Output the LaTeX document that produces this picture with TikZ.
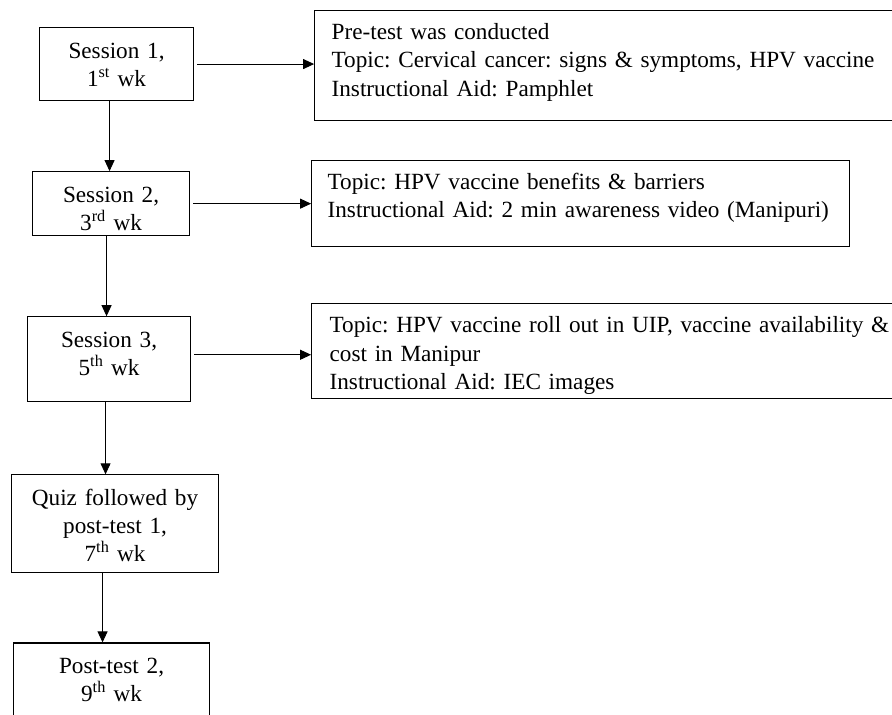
\documentclass[tikz,border=0pt]{standalone}
\usepackage{fontspec}
\setmainfont{Liberation Serif}
\usepackage{tikz}
\usetikzlibrary{arrows.meta, positioning}
\newcommand{\boxfont}{\fontsize{23.2pt}{28.3pt}\selectfont\frenchspacing\hyphenpenalty=10000}
\newcommand{\weekno}[2]{#1\textsuperscript{#2} wk}

\begin{document}
\begin{tikzpicture}[x=1pt, y=-1pt, every node/.style={font=\boxfont},
      stage/.style={draw, line width=1.1pt, inner sep=0pt, align=center, text height=30.5pt},
      note/.style={draw, line width=1.1pt, inner ysep=0pt, align=left, text height=29pt},
      link/.style={-{Triangle[length=11pt, width=10pt]}, line width=0.9pt}]
    \useasboundingbox (0,0) rectangle (892,715);
    \clip (0,0) rectangle (892,715);
    \node[stage, anchor=north west, text width=154pt, text depth=42.5pt] (s1) at (39,27) {Session 1,\\\weekno{1}{st}};
    \node[stage, below=70pt of s1, xshift=-5.5pt, text width=157pt, text depth=33.5pt] (s2) {Session 2,\\\weekno{3}{rd}};
    \node[stage, below=80pt of s2, xshift=-2pt, text width=163pt, text depth=54.5pt] (s3) {Session 3,\\\weekno{5}{th}};
    \node[stage, below=72pt of s3, xshift=6pt, text width=207pt, text depth=67.5pt] (quiz) {Quiz followed by\\post-test 1,\\\weekno{7}{th}};
    \node[stage, below=69pt of quiz, xshift=-3.5pt, text width=196pt, text depth=59.5pt] (post) {Post-test 2,\\\weekno{9}{th}};
    \node[note, right=120pt of s1, yshift=-1.5pt, inner xsep=17pt, text width=575pt, text depth=81pt] (r1) {Pre-test was conducted\\Topic: Cervical cancer: signs \& symptoms, HPV vaccine\\Instructional Aid: Pamphlet};
    \node[note, right=121pt of s2, inner xsep=16pt, text width=506pt, text depth=57pt] (r2) {Topic: HPV vaccine benefits \& barriers\\Instructional Aid: 2 min awareness video (Manipuri)};
    \node[note, right=120pt of s3, yshift=8pt, inner xsep=18pt, text width=575pt, text depth=66pt] (r3) {Topic: HPV vaccine roll out in UIP, vaccine availability \&\\cost in Manipur\\Instructional Aid: IEC images};
    \draw[link, shorten <=3pt] (s1.east) -- (s1.east -| r1.west);
    \draw[link, shorten <=3pt] (s2.east) -- (s2.east -| r2.west);
    \draw[link, shorten <=3pt] ([yshift=4.5pt]s3.east) -- ([yshift=4.5pt]s3.east -| r3.west);
    \draw[link] ([xshift=-7pt]s1.south) -- ([xshift=-7pt]s1.south |- s2.north);
    \draw[link] ([xshift=-4.5pt]s2.south) -- ([xshift=-4.5pt]s2.south |- s3.north);
    \draw[link] ([xshift=-3.5pt]s3.south) -- ([xshift=-3.5pt]s3.south |- quiz.north);
    \draw[link] ([xshift=-12.5pt]quiz.south) -- ([xshift=-12.5pt]quiz.south |- post.north);
  \end{tikzpicture}
\end{document}
